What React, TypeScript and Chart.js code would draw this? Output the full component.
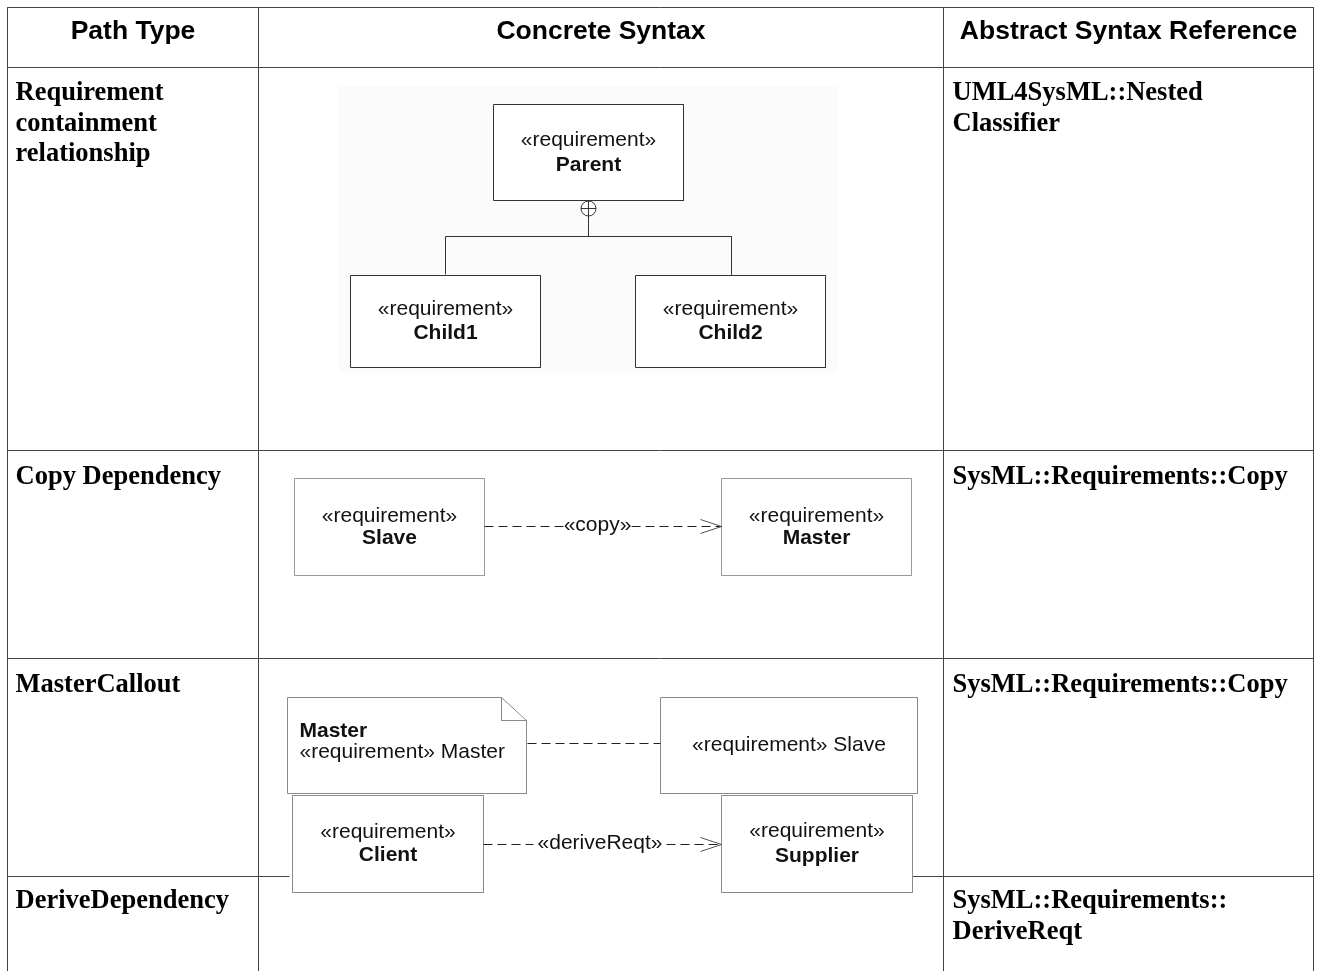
import React, { useEffect, useRef } from "react";
import { Chart, registerables } from "chart.js";

Chart.register(...registerables);

const PAGE_W = 1319;
const PAGE_H = 971;

// ---- table grid ----
const columnEdges = [7, 258, 943, 1313];
const rowEdges = [7, 67, 450, 658];
const lastRowEdge = 876;
const lastRowGap = [289, 912]; // last divider is hidden behind the diagram here
const tableBottom = 971;

// ---- table text ----
const headers = ["Path Type", "Concrete Syntax", "Abstract Syntax Reference"];
const pathTypes = [
  ["Requirement", "containment", "relationship"],
  ["Copy Dependency"],
  ["MasterCallout"],
  ["DeriveDependency"],
];
const abstractRefs = [
  ["UML4SysML::Nested", "Classifier"],
  ["SysML::Requirements::Copy"],
  ["SysML::Requirements::Copy"],
  ["SysML::Requirements::", "DeriveReqt"],
];
const rowTextTop = [93, 477, 685, 901];

// ---- diagram boxes: [left, top, right, bottom] ----
const boxNames = ["Parent", "Child1", "Child2", "Slave", "Master", "Client", "Supplier"];
const boxRects = [
  [493, 104, 683, 200],
  [350, 275, 540, 367],
  [635, 275, 825, 367],
  [294, 478, 484, 575],
  [721, 478, 911, 575],
  [292, 795, 483, 892],
  [721, 795, 912, 892],
];
const boxStereoY = [140, 309, 309, 516, 516, 832, 831];
const boxNameY = [165, 333, 333, 538, 538, 855, 856];
const boxColors = ["#333333", "#333333", "#333333", "#9a9a9a", "#9a9a9a", "#8a8a8a", "#8a8a8a"];

// callout row
const calloutSlaveRect = [660, 697, 917, 793];
const calloutSlaveLabel = "«requirement» Slave";
const noteOutline = [[287, 697], [501, 697], [526, 720], [526, 793], [287, 793], [287, 697]];
const noteFold = [[501, 697], [501, 720], [526, 720]];
const noteTitle = "Master";
const noteBody = "«requirement» Master";
const noteTextX = 299;
const noteTextY = [731, 752];
const calloutLink = [[527, 743], [660, 743]];

// containment tree
const containCircle = [588, 208];
const containRadius = 7.5;
const containTrunk = [[588, 215.5], [588, 236]];
const containBar = [[445, 274], [445, 236], [731, 236], [731, 274]];

// dependencies: [fromX, labelStart, labelEnd, toX, y]
const depLabels = ["«copy»", "«deriveReqt»"];
const depLines = [
  [484, 563, 631, 721, 526],
  [483, 533, 666, 721, 844],
];
const dashPattern = [9, 5];

// faint scan backgrounds behind the pasted diagrams
const diagramBackgrounds = [[338, 86, 838, 372]];

const STEREO = "«requirement»";

function rectPoints(r: number[]) {
  const [l, t, rr, b] = r;
  return [
    { x: l, y: t },
    { x: rr, y: t },
    { x: rr, y: b },
    { x: l, y: b },
    { x: l, y: t },
  ];
}

function pts(a: number[][]) {
  return a.map(([x, y]) => ({ x, y }));
}

function lineDs(
  data: { x: number; y: number }[],
  color: string,
  width = 1,
  dash: number[] = [],
  fill: any = false,
  bg = "transparent"
) {
  return {
    type: "line" as const,
    data,
    borderColor: color,
    borderWidth: width,
    borderDash: dash,
    pointRadius: 0,
    pointHoverRadius: 0,
    tension: 0,
    fill,
    backgroundColor: bg,
    showLine: true,
    clip: false as any,
  };
}

export default function App() {
  const ref = useRef<HTMLCanvasElement | null>(null);

  useEffect(() => {
    document.body.style.margin = "0";
    const canvas = ref.current!;
    const datasets: any[] = [];
    const gridColor = "#444444";

    diagramBackgrounds.forEach((r) =>
      datasets.push(lineDs(rectPoints(r), "rgba(0,0,0,0)", 0, [], "shape", "#fbfbfb"))
    );

    // table grid
    columnEdges.forEach((x) =>
      datasets.push(lineDs([{ x, y: rowEdges[0] }, { x, y: tableBottom }], gridColor))
    );
    rowEdges.forEach((y) =>
      datasets.push(lineDs([{ x: columnEdges[0], y }, { x: columnEdges[3], y }], gridColor))
    );
    datasets.push(lineDs([{ x: columnEdges[0], y: lastRowEdge }, { x: lastRowGap[0], y: lastRowEdge }], gridColor));
    datasets.push(lineDs([{ x: lastRowGap[1], y: lastRowEdge }, { x: columnEdges[3], y: lastRowEdge }], gridColor));

    // containment
    datasets.push(lineDs(pts(containTrunk), "#333333"));
    datasets.push(lineDs(pts(containBar), "#333333"));
    datasets.push({
      type: "scatter",
      data: [{ x: containCircle[0], y: containCircle[1] }],
      pointRadius: containRadius,
      pointBorderColor: "#333333",
      pointBackgroundColor: "#ffffff",
      pointBorderWidth: 1,
      pointHoverRadius: containRadius,
      clip: false,
    });
    datasets.push(lineDs([{ x: containCircle[0] - containRadius, y: containCircle[1] }, { x: containCircle[0] + containRadius, y: containCircle[1] }], "#333333"));
    datasets.push(lineDs([{ x: containCircle[0], y: containCircle[1] - containRadius }, { x: containCircle[0], y: containCircle[1] + containRadius }], "#333333"));

    // boxes
    boxRects.forEach((r, i) => datasets.push(lineDs(rectPoints(r), boxColors[i], 1, [], "shape", "#ffffff")));
    datasets.push(lineDs(rectPoints(calloutSlaveRect), "#8a8a8a", 1, [], "shape", "#ffffff"));
    datasets.push(lineDs(pts(noteOutline), "#8a8a8a", 1, [], "shape", "#ffffff"));
    datasets.push(lineDs(pts(noteFold), "#8a8a8a"));
    datasets.push(lineDs(pts(calloutLink), "#222222", 1, dashPattern));

    // dependencies
    depLines.forEach(([a, b, c, d, y]) => {
      datasets.push(lineDs([{ x: a, y }, { x: b, y }], "#222222", 1, dashPattern));
      datasets.push(lineDs([{ x: c, y }, { x: d, y }], "#222222", 1, dashPattern));
      datasets.push(lineDs([{ x: d - 21, y: y - 7 }, { x: d, y }, { x: d - 21, y: y + 7 }], "#555555"));
    });

    // Chart.js paints the last dataset first; reverse so the list above is painted top-down
    datasets.reverse();

    const textPlugin = {
      id: "tableText",
      afterDatasetsDraw(chart: any) {
        const ctx = chart.ctx as CanvasRenderingContext2D;
        const sx = chart.scales.x;
        const sy = chart.scales.y;
        const X = (v: number) => sx.getPixelForValue(v);
        const Y = (v: number) => sy.getPixelForValue(v);
        ctx.save();
        ctx.textBaseline = "middle";
        ctx.fillStyle = "#000000";

        // headers
        ctx.font = "bold 26.5px 'Liberation Sans', Arial, sans-serif";
        ctx.textAlign = "center";
        headers.forEach((h, i) => {
          ctx.fillText(h, X((columnEdges[i] + columnEdges[i + 1]) / 2), Y(31));
        });

        // left and right columns
        ctx.font = "bold 26.5px 'Liberation Serif', 'Times New Roman', serif";
        ctx.textAlign = "left";
        pathTypes.forEach((lines, r) =>
          lines.forEach((t, k) => ctx.fillText(t, X(columnEdges[0] + 8), Y(rowTextTop[r] + k * 30.5)))
        );
        abstractRefs.forEach((lines, r) =>
          lines.forEach((t, k) => ctx.fillText(t, X(columnEdges[2] + 9), Y(rowTextTop[r] + k * 30.5)))
        );

        // boxes
        ctx.fillStyle = "#111111";
        ctx.textAlign = "center";
        boxRects.forEach((r, i) => {
          const cx = (r[0] + r[2]) / 2;
          ctx.font = "21px 'Liberation Sans', Arial, sans-serif";
          ctx.fillText(STEREO, X(cx), Y(boxStereoY[i]));
          ctx.font = "bold 21px 'Liberation Sans', Arial, sans-serif";
          ctx.fillText(boxNames[i], X(cx), Y(boxNameY[i]));
        });
        ctx.font = "21px 'Liberation Sans', Arial, sans-serif";
        ctx.fillText(
          calloutSlaveLabel,
          X((calloutSlaveRect[0] + calloutSlaveRect[2]) / 2),
          Y((calloutSlaveRect[1] + calloutSlaveRect[3]) / 2)
        );
        depLines.forEach(([, b, c, , y], i) => {
          ctx.fillText(depLabels[i], X((b + c) / 2), Y(y - 1));
        });

        // note
        ctx.textAlign = "left";
        ctx.font = "bold 21px 'Liberation Sans', Arial, sans-serif";
        ctx.fillText(noteTitle, X(noteTextX), Y(noteTextY[0]));
        ctx.font = "21px 'Liberation Sans', Arial, sans-serif";
        ctx.fillText(noteBody, X(noteTextX), Y(noteTextY[1]));
        ctx.restore();
      },
    };

    const chart = new Chart(canvas, {
      type: "scatter",
      data: { datasets },
      options: {
        animation: false,
        responsive: false,
        maintainAspectRatio: false,
        devicePixelRatio: 1,
        events: [],
        layout: { padding: 0, autoPadding: false },
        plugins: { legend: { display: false }, tooltip: { enabled: false } },
        scales: {
          x: { type: "linear", min: -0.5, max: PAGE_W - 0.5, display: false },
          y: { type: "linear", min: -0.5, max: PAGE_H - 0.5, reverse: true, display: false },
        },
      },
      plugins: [textPlugin],
    } as any);
    return () => chart.destroy();
  }, []);

  return (
    <div style={{ position: "absolute", left: 0, top: 0, width: PAGE_W, height: PAGE_H, background: "#ffffff" }}>
      <canvas ref={ref} width={PAGE_W} height={PAGE_H} style={{ display: "block", width: PAGE_W, height: PAGE_H }} />
    </div>
  );
}
